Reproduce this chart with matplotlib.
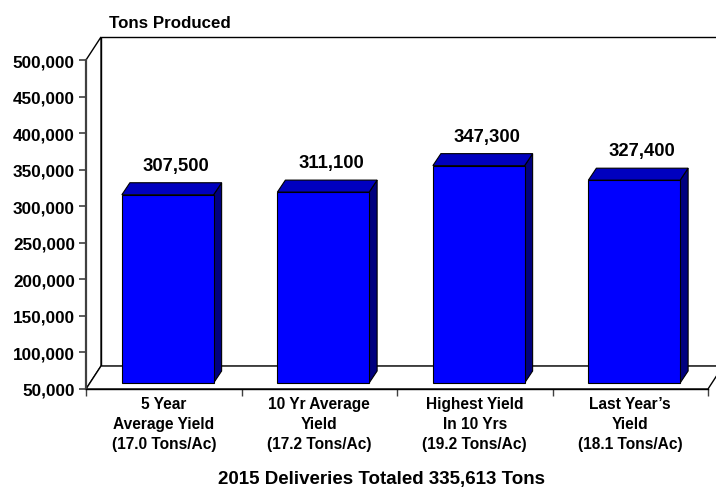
import numpy as np
import matplotlib
matplotlib.use("Agg")
import matplotlib.pyplot as plt
from matplotlib.patches import Polygon
from matplotlib.transforms import Affine2D
from matplotlib.ticker import FuncFormatter

# chart data
categories = ["5 Year\nAverage Yield\n(17.0 Tons/Ac)",
              "10 Yr Average\nYield\n(17.2 Tons/Ac)",
              "Highest Yield\nIn 10 Yrs\n(19.2 Tons/Ac)",
              "Last Year\u2019s\nYield\n(18.1 Tons/Ac)"]
tons = [307500, 311100, 347300, 327400]
y_ticks = [50000, 100000, 150000, 200000, 250000, 300000, 350000, 400000, 450000, 500000]

plt.rcParams['font.family'] = ['Liberation Sans', 'DejaVu Sans']
plt.rcParams['font.weight'] = 'bold'

fig = plt.figure(figsize=(7.16, 4.89), dpi=100)
ax = fig.add_axes([86/716, 99/489, 622/716, 329/489])
ax.set_xlim(0, len(tons))
ax.set_ylim(50000, 500000)

# depth offsets in pixels (x right, y up)
def shifted(dx, dy):
    return ax.transData + Affine2D().translate(dx, dy)

back = shifted(15, 23)
n = len(tons)
y0, y1 = 50000, 500000

# back wall
ax.add_patch(Polygon([(0, y0), (n, y0), (n, y1), (0, y1)], closed=True,
                     facecolor='white', edgecolor='black', lw=1, transform=back,
                     clip_on=False, zorder=1))

# left wall: front edge to back edge
def wall_pts(x, ya, yb):
    p_front = ax.transData.transform([(x, ya), (x, yb)])
    p_back = back.transform([(x, yb), (x, ya)])
    return np.vstack([p_front, p_back])

ax.add_patch(Polygon(wall_pts(0, y0, y1), closed=True, facecolor='white',
                     edgecolor='black', lw=1, transform=None, clip_on=False, zorder=1))
floor = np.vstack([ax.transData.transform([(0, y0), (n, y0)]),
                   back.transform([(n, y0), (0, y0)])])
ax.add_patch(Polygon(floor, closed=True, facecolor='white', edgecolor='black',
                     lw=1, transform=None, clip_on=False, zorder=1))

# 3D bars
bw = 0.59
fdx, fdy = 4, 6      # bar front face offset
bdx, bdy = 12, 18    # bar back face offset
for i, v in enumerate(tons):
    xl = i + 0.5 - bw / 2
    xr = i + 0.5 + bw / 2
    f = ax.transData.transform([(xl, y0), (xr, y0), (xr, v), (xl, v)]) + [fdx, fdy]
    b = ax.transData.transform([(xl, y0), (xr, y0), (xr, v), (xl, v)]) + [bdx, bdy]
    side = [f[1], b[1], b[2], f[2]]
    top = [f[3], f[2], b[2], b[3]]
    for pts, col in [(side, '#00007F'), (top, '#0000BF'), (f, '#0000FF')]:
        fig.patches.append(Polygon(pts, closed=True, facecolor=col, edgecolor='black',
                                   lw=0.8, transform=None, zorder=3))
    ax.annotate(f"{v:,}", xy=(i + 0.5, v), xytext=(bdx, bdy + 9),
                textcoords='offset pixels', ha='center', va='bottom',
                fontsize=13.3, fontweight='bold', annotation_clip=False)

# axes styling
for s in ['top', 'right']:
    ax.spines[s].set_visible(False)
ax.spines['left'].set_color('#404040')
ax.spines['left'].set_linewidth(1.6)
ax.spines['bottom'].set_linewidth(1)
ax.spines['left'].set_zorder(2)
ax.spines['bottom'].set_zorder(2)
ax.patch.set_visible(False)

ax.set_yticks(y_ticks)
ax.yaxis.set_major_formatter(FuncFormatter(lambda v, p: f"{int(v):,}"))
ax.tick_params(axis='y', length=5, width=1.2, color='#404040', labelsize=12.3, pad=3)
ax.set_xticks(np.arange(n) + 0.5)
ax.set_xticklabels(categories, fontsize=11.2, fontweight='bold', linespacing=1.4)
ax.set_xticks(np.arange(n + 1), minor=True)
ax.tick_params(axis='x', which='major', length=0, pad=5)
ax.tick_params(axis='x', which='minor', length=5, width=1, color='#404040')

fig.text(109/716, 1 - 24/489, "Tons Produced", fontsize=12.2, fontweight='bold',
         ha='left', va='center')
fig.text(382/716, 5/489, "2015 Deliveries Totaled 335,613 Tons", fontsize=13.5,
         fontweight='bold', ha='center', va='baseline')

fig.savefig("out.png", dpi=100)
